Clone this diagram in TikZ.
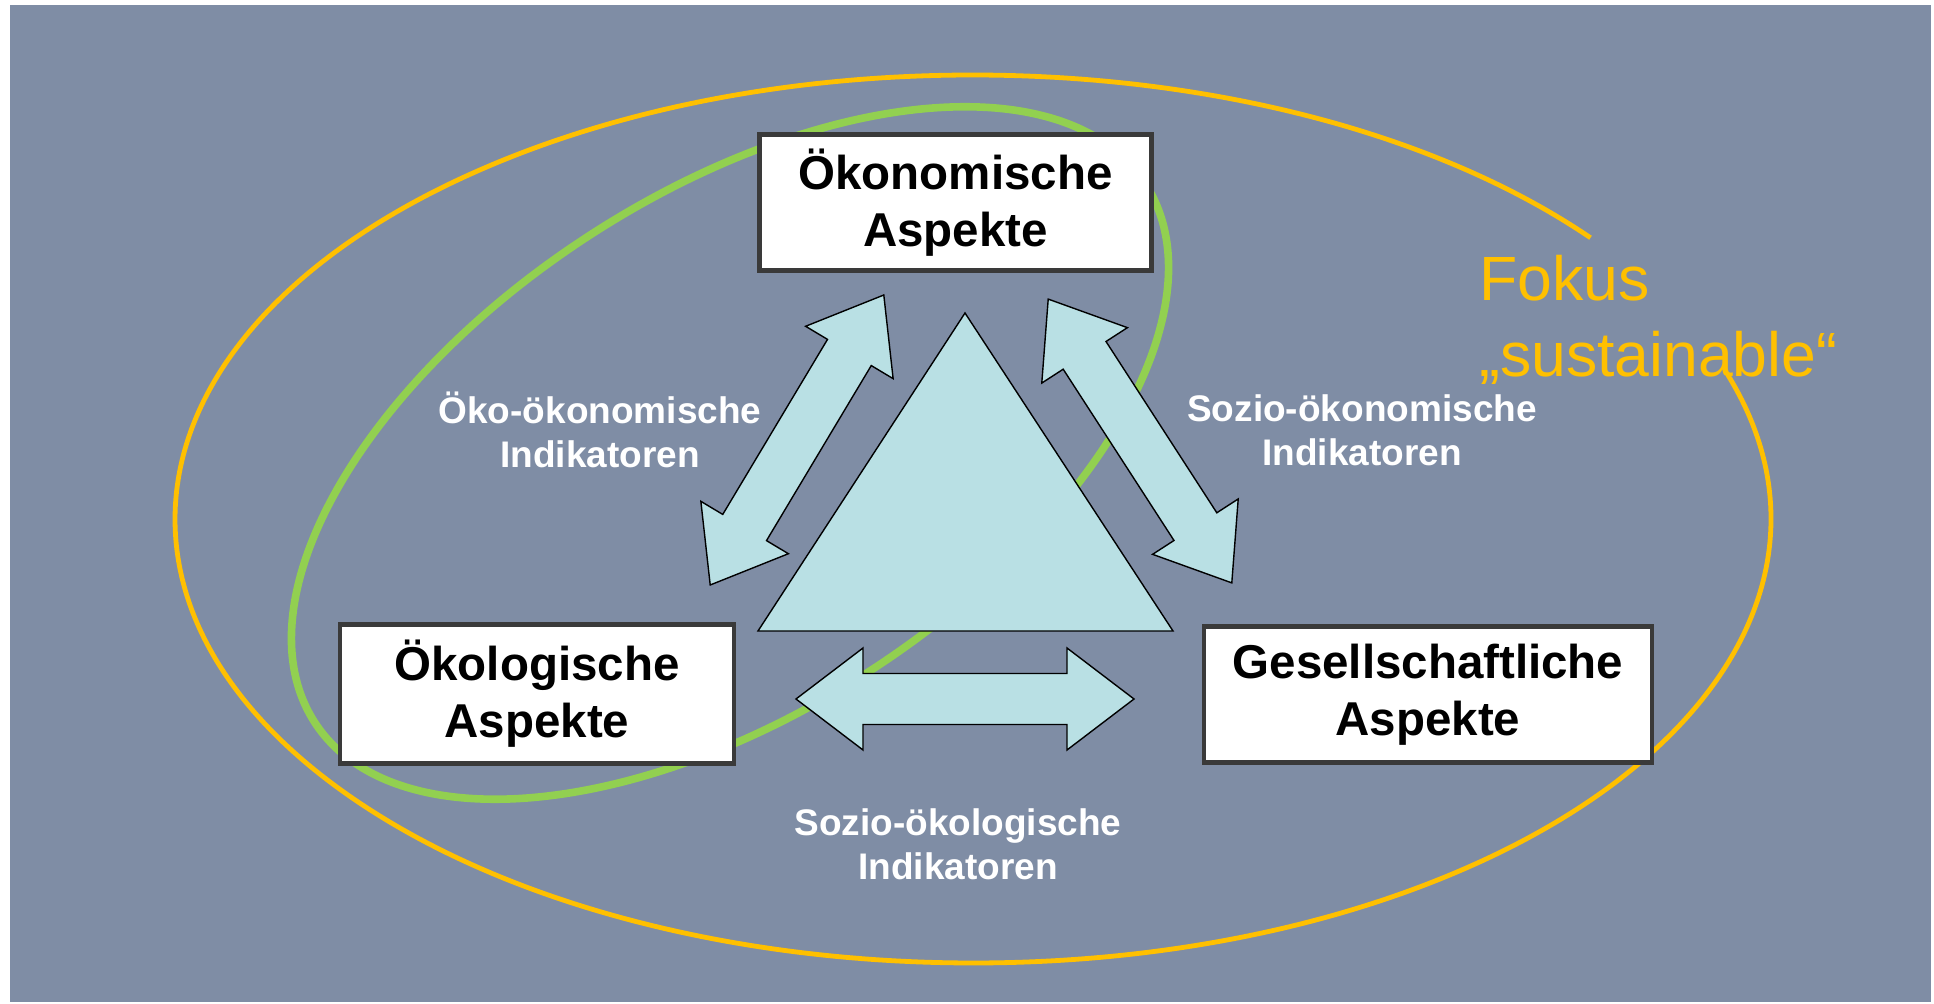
\documentclass[tikz,border=0pt]{standalone}
\usepackage{fontspec}
\setmainfont{Liberation Sans}
\definecolor{bgblue}{HTML}{7F8DA5}
\definecolor{ringyel}{HTML}{FFC000}
\definecolor{ringgrn}{HTML}{92D050}
\definecolor{tint1}{HTML}{B9E0E4}
\definecolor{frame}{HTML}{3A3A3A}

\begin{document}
\begin{tikzpicture}[
  x=0.5pt, y=-0.5pt,
  box/.style={draw=frame, line width=2.25pt, fill=white, align=center,
              font=\fontsize{23.75}{28.5}\selectfont\bfseries, inner sep=0pt},
  ind/.style={text=white, align=center,
              font=\fontsize{18.5}{22.2}\selectfont\bfseries, inner sep=0pt},
  tri/.style={draw=black, line width=0.7pt, fill=tint1},
  dpfeil/.pic={
    \draw[tri] (-84.5pt,0pt) -- (-51pt,25.5pt) -- (-51pt,12.75pt) -- (51pt,12.75pt)
      -- (51pt,25.5pt) -- (84.5pt,0pt) -- (51pt,-25.5pt) -- (51pt,-12.75pt)
      -- (-51pt,-12.75pt) -- (-51pt,-25.5pt) -- cycle;
  },
]
  % ---- Hintergrund ----
  \useasboundingbox[fill=white] (0,0) rectangle (1934,1004);
  \fill[bgblue] (10,5) rectangle (1931,1002);

  % ---- Ringe ----
  \draw[ringyel, line width=2.4pt] (973,519) ++(39.3:399pt and 222pt)
    arc[start angle=39.3, end angle=378.9, x radius=399pt, y radius=222pt];
  \draw[ringgrn, line width=3.8pt, rotate around={33:(730,453)}]
    (730,453) ellipse (247.5pt and 129.5pt);
  \node[ringyel, anchor=west, align=left, inner sep=0pt,
        font=\fontsize{31.25}{38.25}\selectfont] (fokus) at (1479,320)
        {Fokus\\„sustainable“};

  % ---- Aspekte ----
  \node[box, minimum width=196pt, minimum height=68pt] (oek) at (955.5,202.5)
        {Ökonomische\\Aspekte};
  \node[box, minimum width=197pt, minimum height=69.5pt] (oekol) at (537,694)
        {Ökologische\\Aspekte};
  \node[box, minimum width=224pt, minimum height=68pt] (ges) at (1428,694.5)
        {Gesellschaftliche\\Aspekte};

  % ---- Dreieck und Doppelpfeile ----
  \draw[tri] (965,313) -- (758,631) -- (1173,631) -- cycle;
  \pic[rotate=59.1]  (pl) at (797,440) {dpfeil};
  \pic[rotate=-57.1] (pr) at (1140,441) {dpfeil};
  \pic               (pu) at (965,699) {dpfeil};

  % ---- Indikatoren ----
  \node[ind] (ioo) at (600,430)  {Öko-ökonomische\\Indikatoren};
  \node[ind] (iso) at (1362,430) {Sozio-ökonomische\\Indikatoren};
  \node[ind] (isl) at (958,844)  {Sozio-ökologische\\Indikatoren};
\end{tikzpicture}
\end{document}
